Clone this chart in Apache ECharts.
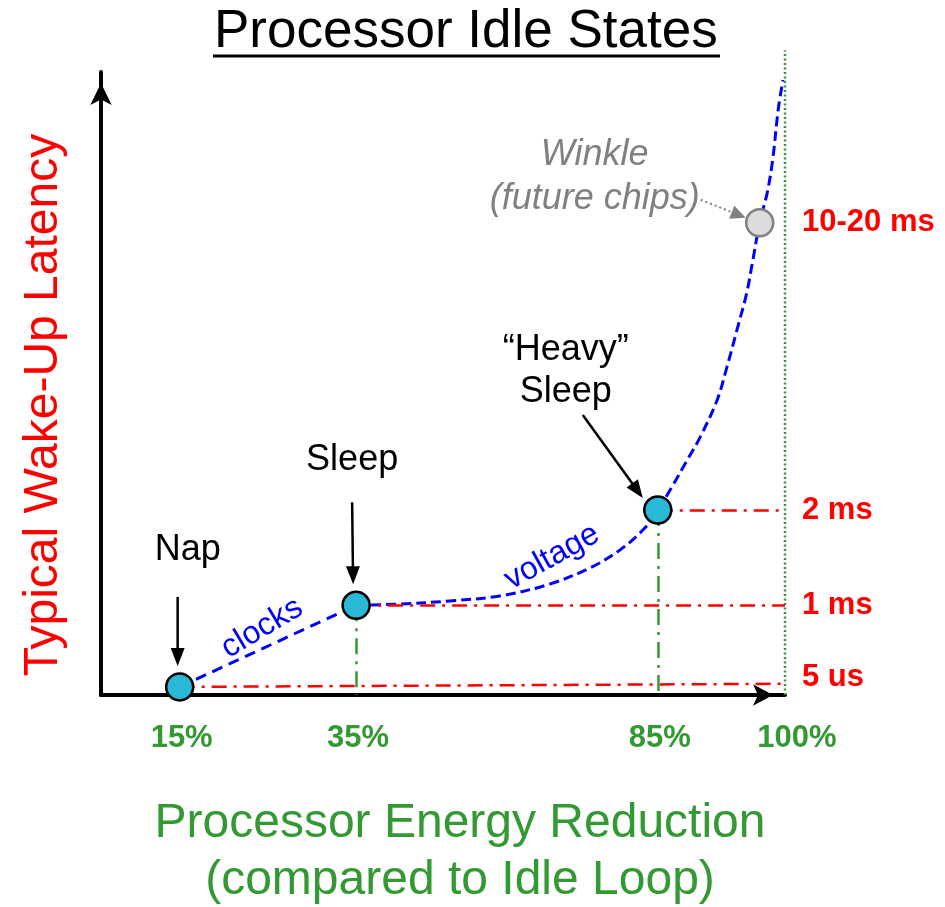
<!DOCTYPE html>
<html><head><meta charset="utf-8">
<script src="https://cdn.jsdelivr.net/npm/echarts@6/dist/echarts.min.js"></script>
<style>html,body{margin:0;padding:0;background:#fff}#c{width:945px;height:907px}</style>
</head><body><div id="c"></div>
<script>
const FONT = '"Liberation Sans", Arial, Helvetica, sans-serif';

// Idle states. The picture is schematic: x is the position along the energy-reduction axis,
// y the position along the latency axis, each read off the picture on a 0-100 scale.
const states = ['Nap', 'Sleep', '“Heavy”\nSleep', 'Winkle\n(future chips)'];
const stateX = [11.5, 37.3, 81.4, 96.3];
const stateY = [1.3, 14.4, 29.7, 75.8];

// axis annotations
const energyLabels = ['15%', '35%', '85%', '100%'];
const energyTickX = [11.5, 37.3, 81.4, 100];
const latencyLabels = ['5 us', '1 ms', '2 ms', '10-20 ms'];
const latencyTickY = [1.3, 14.4, 29.7, 75.8];

// blue curve: "clocks" segment (Nap -> Sleep) and "voltage" segment (Sleep -> top)
const clocksX = [11.5, 37.3];
const clocksY = [1.3, 14.4];
const voltageX = [37.3, 43.7, 51.0, 58.3, 65.6, 71.5, 75.9, 79.5, 81.4, 83.2, 85.7, 87.6, 90.1, 91.5, 93.1, 94.4, 95.3, 96.3, 97.4, 98.2, 99.0, 99.7];
const voltageY = [14.4, 14.6, 15.1, 15.9, 17.8, 20.4, 23.3, 26.8, 29.7, 32.9, 37.7, 41.4, 47.4, 52.6, 59.1, 64.5, 69.8, 75.8, 80.6, 85.9, 93.9, 98.7];

// 100% reference (dotted) line extent along the latency axis
const fullLineX = [100, 100];
const fullLineY = [0, 103.5];

const RED = '#ff0000', GREEN = '#339933', BLUE = '#0000ff', GRAY = '#808080';

const chart = echarts.init(document.getElementById('c'), null, {renderer: 'canvas'});

const zip = (a, b) => a.map((v, i) => [v, b[i]]);

const redLines = [0, 1, 2].map(i => [
  {coord: [stateX[i], stateY[i]], lineStyle: {color: RED, width: 2.5, type: [15, 7, 3, 7]}},
  {coord: [100, stateY[i] + (i === 0 ? 0.5 : 0)]}
]);
const greenLines = [1, 2].map(i => [
  {coord: [stateX[i], stateY[i]], lineStyle: {color: GREEN, width: 2.5, type: [16, 7, 3, 7]}},
  {coord: [stateX[i], 0]}
]);

chart.setOption({
  animation: false,
  backgroundColor: '#fff',
  title: {
    text: 'Processor Idle States',
    left: 214, top: 6, padding: 0,
    textStyle: {fontFamily: FONT, fontSize: 53, fontWeight: 'normal', color: '#000'}
  },
  grid: {left: 101, right: 160, top: 72, bottom: 212, containLabel: false},
  xAxis: {
    type: 'value', min: 0, max: 100,
    axisLine: {show: true, lineStyle: {color: '#000', width: 4},
      symbol: ['none', 'arrow'], symbolSize: [16, 20], symbolOffset: [0, -12]},
    axisTick: {show: false}, axisLabel: {show: false}, splitLine: {show: false}
  },
  yAxis: {
    type: 'value', min: 0, max: 100,
    axisLine: {show: true, lineStyle: {color: '#000', width: 4},
      symbol: ['none', 'arrow'], symbolSize: [16, 22], symbolOffset: [0, -11]},
    axisTick: {show: false}, axisLabel: {show: false}, splitLine: {show: false}
  },
  series: [
    {
      name: 'guides', type: 'line', data: [], silent: true,
      markLine: {silent: true, symbol: ['none', 'none'], label: {show: false},
        animation: false, data: redLines.concat(greenLines)}
    },
    {
      name: '100%', type: 'line', data: zip(fullLineX, fullLineY), showSymbol: false, silent: true,
      clip: false, lineStyle: {color: GREEN, width: 2.5, type: [2, 2.5]}, z: 1
    },
    {
      name: 'clocks', type: 'line', data: zip(clocksX, clocksY), showSymbol: false, silent: true,
      lineStyle: {color: BLUE, width: 3, type: [11, 7]}, z: 3
    },
    {
      name: 'voltage', type: 'line', data: zip(voltageX, voltageY), showSymbol: false, silent: true,
      smooth: 0.35, clip: false,
      lineStyle: {color: BLUE, width: 3, type: [10, 5]}, z: 3
    },
    {
      name: 'states', type: 'scatter', z: 5, symbol: 'circle', symbolSize: 27,
      data: stateX.map((x, i) => ({
        name: states[i], value: [x, stateY[i]],
        itemStyle: i === 3
          ? {color: '#dcdcdc', borderColor: GRAY, borderWidth: 2.5, opacity: 1}
          : {color: '#29b8d6', borderColor: '#000', borderWidth: 2.5, opacity: 1}
      }))
    }
  ]
});

const px = (x, y) => chart.convertToPixel({gridIndex: 0}, [x, y]);

function arrow(x1, y1, x2, y2, color, dash, hl, hw, lw) {
  const a = Math.atan2(y2 - y1, x2 - x1), c = Math.cos(a), s = Math.sin(a);
  const bx = x2 - hl * c, by = y2 - hl * s;
  return [
    {type: 'line', silent: true, z: 10, shape: {x1, y1, x2: bx + c * 2, y2: by + s * 2},
      style: {stroke: color, lineWidth: lw, lineDash: dash}},
    {type: 'polygon', silent: true, z: 10,
      shape: {points: [[x2, y2], [bx + hw * s, by - hw * c], [bx - hw * s, by + hw * c]]},
      style: {fill: color}}
  ];
}
function text(x, y, str, opt) {
  return Object.assign({type: 'text', silent: true, z: 10, x, y,
    style: Object.assign({text: str, fontFamily: FONT, align: 'center', verticalAlign: 'middle', fill: '#000'}, opt.style || {})},
    opt.extra || {});
}

const P = stateX.map((x, i) => px(x, stateY[i]));
const axisY = px(0, 0)[1];
const g = [];

// underline under the title
g.push({type: 'line', silent: true, shape: {x1: 213, y1: 56, x2: 720, y2: 56}, style: {stroke: '#000', lineWidth: 3}});

// energy tick labels
energyLabels.forEach((t, i) => {
  const p = px(energyTickX[i], 0);
  g.push(text(p[0] + (i === 3 ? 12 : 2), axisY + 43, t,
    {style: {fill: GREEN, fontSize: 31, fontWeight: 'bold'}}));
});
// latency labels
latencyLabels.forEach((t, i) => {
  const p = px(100, latencyTickY[i]);
  g.push(text(p[0] + 17, p[1] - (i === 0 ? 9 : 0), t,
    {style: {fill: RED, fontSize: 31, fontWeight: 'bold', align: 'left'}}));
});

// axis titles
g.push(text(44, 405, 'Typical Wake-Up Latency',
  {style: {fill: RED, fontSize: 48}, extra: {rotation: Math.PI / 2}}));
g.push(text(460, 852, 'Processor Energy Reduction\n(compared to Idle Loop)',
  {style: {fill: GREEN, fontSize: 48, lineHeight: 57}}));

// state labels and arrows
g.push(text(P[0][0] + 8, P[0][1] - 137, 'Nap', {style: {fontSize: 36}}));
g.push(...arrow(P[0][0] - 2, P[0][1] - 90, P[0][0] - 2, P[0][1] - 21, '#000', null, 18, 7, 2.5));

g.push(text(P[1][0] - 4, P[1][1] - 145, 'Sleep', {style: {fontSize: 36}}));
g.push(...arrow(P[1][0] - 4, P[1][1] - 103, P[1][0] - 3, P[1][1] - 21, '#000', null, 18, 7, 2.5));

g.push(text(P[2][0] - 92, P[2][1] - 139, '“Heavy”\nSleep', {style: {fontSize: 36, lineHeight: 42}}));
g.push(...arrow(P[2][0] - 75, P[2][1] - 95, P[2][0] - 15, P[2][1] - 12, '#000', null, 18, 7, 2.5));

g.push(text(P[3][0] - 165, P[3][1] - 46, 'Winkle\n(future chips)',
  {style: {fontSize: 36, lineHeight: 44, fill: GRAY, fontStyle: 'italic'}}));
g.push(...arrow(P[3][0] - 59, P[3][1] - 23, P[3][0] - 14, P[3][1] - 5, GRAY, [2, 3], 15, 7, 2));

// curve segment labels
g.push(text(262, 628, 'clocks', {style: {fill: BLUE, fontSize: 32}, extra: {rotation: 31 * Math.PI / 180}}));
g.push(text(552, 557, 'voltage', {style: {fill: BLUE, fontSize: 32}, extra: {rotation: 29 * Math.PI / 180}}));

chart.setOption({graphic: g});
</script>
</body></html>
